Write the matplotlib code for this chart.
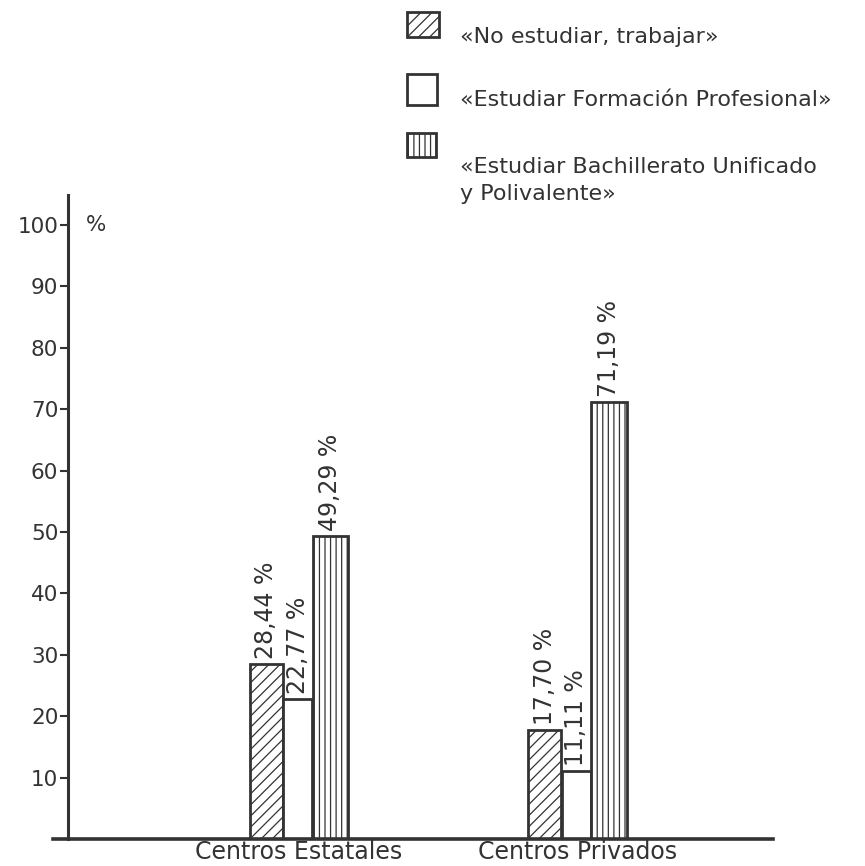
import matplotlib.pyplot as plt
from matplotlib.patches import Rectangle

# Data
categories = ["Centros Estatales", "Centros Privados"]
series_names = [
    "«No estudiar, trabajar»",
    "«Estudiar Formación Profesional»",
    "«Estudiar Bachillerato Unificado\ny Polivalente»",
]
no_estudiar = [28.44, 17.70]
formacion_prof = [22.77, 11.11]
bachillerato = [49.29, 71.19]
y_ticks = [10, 20, 30, 40, 50, 60, 70, 80, 90, 100]

# Styling
ink = "#333333"
hatches = ["///", "", "|||"]
offsets = [-0.117, -0.005, 0.113]
widths = [0.118, 0.104, 0.127]

plt.rcParams["font.family"] = ["DejaVu Sans"]
plt.rcParams["hatch.linewidth"] = 0.9
plt.rcParams["hatch.color"] = ink


def main():
    fig = plt.figure(figsize=(8.65, 8.66), dpi=100)
    W, H = 865, 866
    ax = fig.add_axes([53 / W, (H - 839) / H, 720 / W, 644 / H])

    ax.set_xlim(-0.883, 1.702)
    ax.set_ylim(0, 104.9)

    values = [no_estudiar, formacion_prof, bachillerato]
    for i, vals in enumerate(values):
        xs = [k + offsets[i] for k in range(len(categories))]
        bars = ax.bar(xs, vals, width=widths[i], facecolor="white",
                      edgecolor=ink, linewidth=2.0, hatch=hatches[i], zorder=2)
        for b, v in zip(bars, vals):
            label = f"{v:.2f}".replace(".", ",") + " %"
            ax.text(b.get_x() + b.get_width() / 2, v + 0.8, label,
                    rotation=90, ha="center", va="bottom",
                    fontsize=17, color=ink)

    # axes look: vertical axis inset, baseline running almost full width
    for s in ["top", "right"]:
        ax.spines[s].set_visible(False)
    ax.spines["left"].set_position(("data", -0.829))
    ax.spines["left"].set_linewidth(2.2)
    ax.spines["left"].set_color(ink)
    ax.spines["bottom"].set_linewidth(2.6)
    ax.spines["bottom"].set_color(ink)

    ax.set_yticks(y_ticks)
    ax.set_yticklabels([str(t) for t in y_ticks])
    ax.tick_params(axis="y", direction="out", length=6, width=1.5,
                   color=ink, labelcolor=ink, labelsize=15.5, pad=1)
    ax.set_xticks(range(len(categories)))
    ax.set_xticklabels(categories)
    ax.tick_params(axis="x", length=0, labelsize=17, labelcolor=ink, pad=1)

    ax.text(-0.765, 100, "%", ha="left", va="center", fontsize=15.5, color=ink)

    # legend drawn by hand in the top right
    box_y = [12, 74, 133]
    box_h = [25, 31, 24]
    box_w = [32, 30, 29]
    text_base = [43, 106, 173]
    for i, name in enumerate(series_names):
        fig.add_artist(Rectangle((407 / W, 1 - (box_y[i] + box_h[i]) / H),
                                 box_w[i] / W, box_h[i] / H,
                                 transform=fig.transFigure, facecolor="white",
                                 edgecolor=ink, linewidth=2.0, hatch=hatches[i]))
        lines = name.split("\n")
        for j, line in enumerate(lines):
            fig.text(460 / W, 1 - (text_base[i] + 27 * j) / H, line,
                     ha="left", va="baseline", fontsize=16, color=ink)

    fig.savefig("out.png", dpi=100)


if __name__ == '__main__':
    main()
